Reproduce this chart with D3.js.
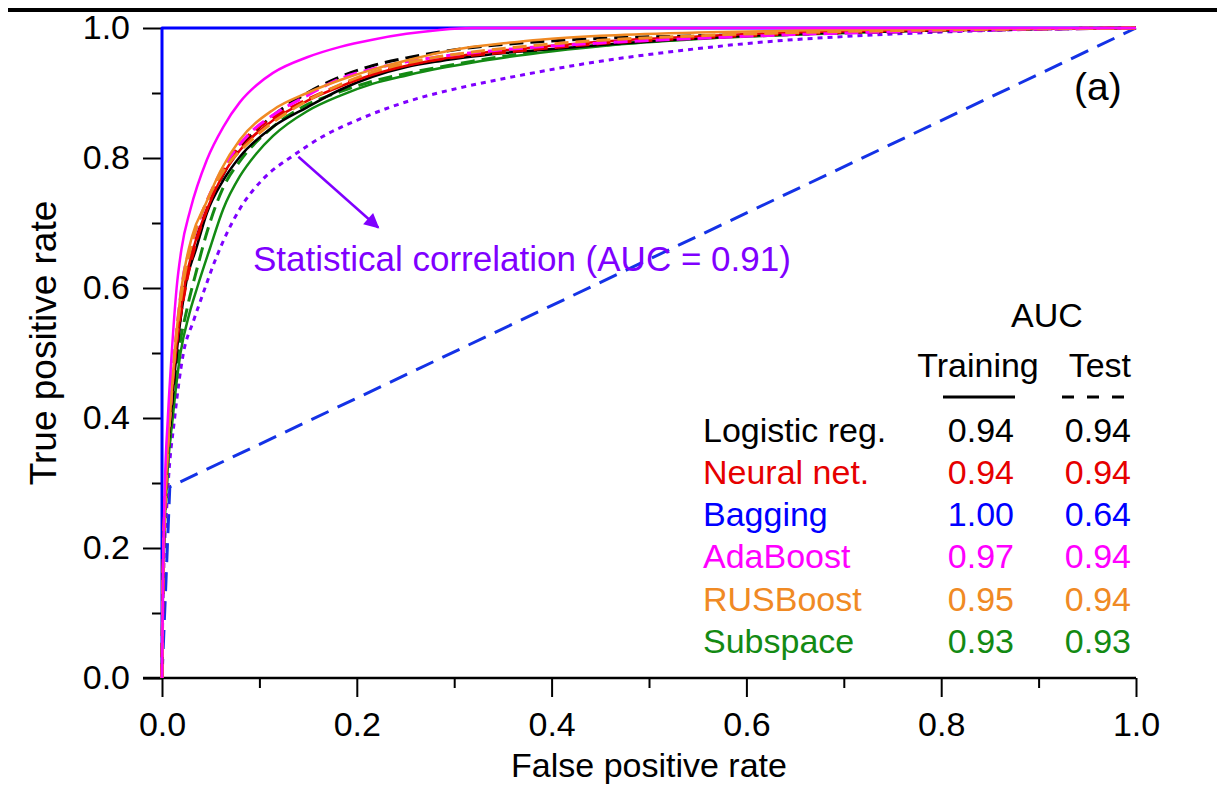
<!DOCTYPE html>
<html>
<head>
<meta charset="utf-8">
<script src="https://cdn.jsdelivr.net/npm/d3@7/dist/d3.min.js"></script>
<style>
  html, body { margin: 0; padding: 0; background: #fff; }
  svg { display: block; font-family: Arial, "Liberation Sans", Helvetica, sans-serif; }
</style>
</head>
<body>
<svg id="chart" width="1217" height="785"></svg>
<script>
// ---- model table ----
const models = ["Logistic reg.", "Neural net.", "Bagging", "AdaBoost", "RUSBoost", "Subspace"];
const modelColors = ["#000000", "#e60000", "#0000ff", "#ff00ff", "#f08a24", "#138a13"];
const aucTraining = ["0.94", "0.94", "1.00", "0.97", "0.95", "0.93"];
const aucTest = ["0.94", "0.94", "0.64", "0.94", "0.94", "0.93"];

// ---- axis ticks ----
const majorTicks = [0, 0.2, 0.4, 0.6, 0.8, 1.0];
const minorTicks = [0.1, 0.3, 0.5, 0.7, 0.9];

// ---- ROC curves (false positive rate, true positive rate) ----
const baggingTrainFpr = [0, 0, 1];
const baggingTrainTpr = [0, 1, 1];
const baggingTestFpr = [0, 0.008, 1];
const baggingTestTpr = [0, 0.294, 1];

const logisticTrainFpr = [0, 0.001, 0.004, 0.009, 0.015, 0.025, 0.035, 0.046, 0.063, 0.080, 0.114, 0.149, 0.183, 0.216, 0.251, 0.285, 0.319, 0.354, 0.388, 0.45, 0.55, 0.65, 0.75, 0.85, 1.0];
const logisticTrainTpr = [0, 0.15, 0.30, 0.40, 0.50, 0.61, 0.66, 0.715, 0.766, 0.802, 0.848, 0.878, 0.905, 0.925, 0.940, 0.949, 0.956, 0.962, 0.966, 0.974, 0.984, 0.991, 0.995, 0.998, 1.0];
const logisticTestFpr = [0, 0.001, 0.004, 0.009, 0.015, 0.024, 0.034, 0.046, 0.063, 0.080, 0.114, 0.149, 0.183, 0.216, 0.251, 0.285, 0.319, 0.354, 0.388, 0.45, 0.55, 0.65, 0.75, 0.85, 1.0];
const logisticTestTpr = [0, 0.15, 0.30, 0.40, 0.50, 0.61, 0.67, 0.72, 0.775, 0.815, 0.865, 0.900, 0.925, 0.942, 0.954, 0.963, 0.970, 0.975, 0.979, 0.984, 0.988, 0.991, 0.994, 0.997, 1.0];

const neuralTrainFpr = [0, 0.001, 0.004, 0.008, 0.014, 0.024, 0.034, 0.046, 0.063, 0.080, 0.114, 0.149, 0.183, 0.216, 0.251, 0.285, 0.319, 0.354, 0.388, 0.45, 0.55, 0.65, 0.75, 0.85, 1.0];
const neuralTrainTpr = [0, 0.15, 0.30, 0.40, 0.50, 0.61, 0.67, 0.72, 0.775, 0.812, 0.858, 0.888, 0.910, 0.928, 0.942, 0.952, 0.960, 0.966, 0.971, 0.979, 0.987, 0.993, 0.996, 0.998, 1.0];
const neuralTestFpr = [0, 0.001, 0.004, 0.008, 0.014, 0.024, 0.034, 0.046, 0.063, 0.080, 0.114, 0.149, 0.183, 0.216, 0.251, 0.285, 0.319, 0.354, 0.388, 0.45, 0.55, 0.65, 0.75, 0.85, 1.0];
const neuralTestTpr = [0, 0.15, 0.30, 0.40, 0.50, 0.60, 0.665, 0.72, 0.78, 0.82, 0.862, 0.890, 0.912, 0.930, 0.943, 0.952, 0.958, 0.963, 0.968, 0.976, 0.985, 0.991, 0.995, 0.998, 1.0];

const adaTrainFpr = [0, 0.001, 0.003, 0.006, 0.010, 0.015, 0.020, 0.029, 0.046, 0.063, 0.080, 0.097, 0.114, 0.149, 0.183, 0.216, 0.251, 0.285, 0.319, 0.6, 1.0];
const adaTrainTpr = [0, 0.15, 0.30, 0.40, 0.50, 0.60, 0.66, 0.72, 0.797, 0.848, 0.886, 0.912, 0.931, 0.955, 0.971, 0.982, 0.991, 0.997, 1.0, 1.0, 1.0];
const adaTestFpr = [0, 0.001, 0.004, 0.008, 0.013, 0.021, 0.031, 0.045, 0.063, 0.090, 0.114, 0.149, 0.183, 0.216, 0.251, 0.285, 0.319, 0.354, 0.388, 0.45, 0.55, 0.65, 0.75, 0.85, 1.0];
const adaTestTpr = [0, 0.15, 0.30, 0.40, 0.50, 0.61, 0.67, 0.73, 0.785, 0.838, 0.866, 0.896, 0.922, 0.937, 0.948, 0.956, 0.962, 0.967, 0.971, 0.977, 0.984, 0.990, 0.994, 0.997, 1.0];

const rusTrainFpr = [0, 0.001, 0.004, 0.008, 0.013, 0.020, 0.031, 0.045, 0.060, 0.080, 0.114, 0.149, 0.183, 0.216, 0.251, 0.285, 0.319, 0.354, 0.388, 0.45, 0.55, 0.65, 0.8, 1.0];
const rusTrainTpr = [0, 0.15, 0.30, 0.40, 0.50, 0.60, 0.68, 0.73, 0.78, 0.828, 0.874, 0.900, 0.920, 0.936, 0.950, 0.962, 0.971, 0.977, 0.982, 0.988, 0.993, 0.996, 0.999, 1.0];
const rusTestFpr = [0, 0.001, 0.004, 0.008, 0.013, 0.021, 0.031, 0.045, 0.063, 0.090, 0.114, 0.149, 0.183, 0.216, 0.251, 0.285, 0.319, 0.354, 0.388, 0.45, 0.55, 0.65, 0.75, 0.85, 1.0];
const rusTestTpr = [0, 0.15, 0.30, 0.40, 0.50, 0.60, 0.67, 0.73, 0.78, 0.825, 0.855, 0.888, 0.913, 0.932, 0.946, 0.956, 0.963, 0.969, 0.974, 0.981, 0.988, 0.993, 0.996, 0.998, 1.0];

const subspaceTrainFpr = [0, 0.001, 0.005, 0.011, 0.019, 0.028, 0.036, 0.049, 0.063, 0.080, 0.097, 0.114, 0.149, 0.183, 0.216, 0.251, 0.285, 0.319, 0.354, 0.388, 0.45, 0.55, 0.65, 0.75, 0.85, 1.0];
const subspaceTrainTpr = [0, 0.15, 0.30, 0.40, 0.50, 0.56, 0.60, 0.66, 0.722, 0.772, 0.807, 0.834, 0.872, 0.896, 0.914, 0.927, 0.938, 0.947, 0.955, 0.962, 0.972, 0.983, 0.990, 0.995, 0.998, 1.0];
const subspaceTestFpr = [0, 0.001, 0.005, 0.010, 0.017, 0.026, 0.036, 0.047, 0.063, 0.080, 0.114, 0.149, 0.183, 0.216, 0.251, 0.285, 0.319, 0.354, 0.388, 0.45, 0.55, 0.65, 0.75, 0.85, 1.0];
const subspaceTestTpr = [0, 0.15, 0.30, 0.40, 0.50, 0.57, 0.63, 0.69, 0.755, 0.795, 0.848, 0.882, 0.902, 0.918, 0.930, 0.940, 0.949, 0.957, 0.964, 0.973, 0.984, 0.990, 0.995, 0.998, 1.0];

const statCorrFpr = [0, 0.001, 0.006, 0.013, 0.022, 0.032, 0.039, 0.056, 0.080, 0.104, 0.134, 0.165, 0.200, 0.234, 0.268, 0.303, 0.337, 0.371, 0.438, 0.531, 0.622, 0.714, 0.805, 0.897, 1.0];
const statCorrTpr = [0, 0.12, 0.29, 0.40, 0.50, 0.548, 0.578, 0.648, 0.722, 0.768, 0.803, 0.833, 0.858, 0.878, 0.894, 0.907, 0.918, 0.928, 0.946, 0.965, 0.979, 0.988, 0.994, 0.998, 1.0];
const statCorrColor = "#7f00ff";
const statCorrLabel = "Statistical correlation (AUC = 0.91)";
// arrow tail / head and label anchor, in data units
const arrowFrom = [0.140, 0.802];
const arrowTo = [0.222, 0.693];
const statLabelAt = [0.0934, 0.626];

// ---- layout ----
const svg = d3.select("#chart");
const x = d3.scaleLinear().domain([0, 1]).range([162, 1136]);
const y = d3.scaleLinear().domain([0, 1]).range([678, 28]);
const FONT = 34;

// heavy rule across the top
svg.append("rect").attr("x", 8).attr("y", 8).attr("width", 1209).attr("height", 4).attr("fill", "#000");

// ---- axes ----
const gx = svg.append("g").attr("transform", `translate(0,${y(0)})`);
gx.call(d3.axisBottom(x).tickValues(majorTicks).tickSize(19).tickPadding(15).tickFormat(d3.format(".1f")));
const gxm = svg.append("g").attr("transform", `translate(0,${y(0)})`);
gxm.call(d3.axisBottom(x).tickValues(minorTicks).tickSize(10).tickFormat(""));
const gy = svg.append("g").attr("transform", `translate(${x(0)},0)`);
gy.call(d3.axisLeft(y).tickValues(majorTicks).tickSize(19).tickPadding(13).tickFormat(d3.format(".1f")));
const gym = svg.append("g").attr("transform", `translate(${x(0)},0)`);
gym.call(d3.axisLeft(y).tickValues(minorTicks).tickSize(10).tickFormat(""));

[gx, gxm, gy, gym].forEach(g => {
  g.select(".domain").remove();
  g.selectAll(".tick line").attr("stroke", "#000").attr("stroke-width", 2);
  g.selectAll(".tick text").attr("fill", "#000").style("font-size", FONT + "px").style("font-family", "Arial, 'Liberation Sans', sans-serif");
});
// axis lines
svg.append("line").attr("x1", x(0) - 19).attr("x2", x(1)).attr("y1", y(0)).attr("y2", y(0)).attr("stroke", "#000").attr("stroke-width", 2.5);
svg.append("line").attr("x1", x(0)).attr("x2", x(0)).attr("y1", y(0)).attr("y2", y(1)).attr("stroke", "#000").attr("stroke-width", 2);

// axis titles
svg.append("text").attr("x", (x(0) + x(1)) / 2).attr("y", 777).attr("text-anchor", "middle")
  .style("font-size", "34px").text("False positive rate");
svg.append("text").attr("transform", `translate(56,${(y(0) + y(1)) / 2 - 10}) rotate(-90)`).attr("text-anchor", "middle")
  .style("font-size", "37px").text("True positive rate");

// ---- curves ----
const smooth = d3.line().x(d => x(d[0])).y(d => y(d[1])).curve(d3.curveMonotoneX);
const straight = d3.line().x(d => x(d[0])).y(d => y(d[1]));
const zip = (a, b) => a.map((v, i) => [v, b[i]]);
const curves = [
  { fpr: baggingTrainFpr, tpr: baggingTrainTpr, color: modelColors[2], dash: null, w: 3, gen: straight },
  { fpr: baggingTestFpr, tpr: baggingTestTpr, color: "#1432e6", dash: "19,10", w: 3, gen: straight },
  { fpr: statCorrFpr, tpr: statCorrTpr, color: statCorrColor, dash: "5,5", w: 3, gen: smooth },
  { fpr: subspaceTestFpr, tpr: subspaceTestTpr, color: modelColors[5], dash: "14,7", w: 3, gen: smooth },
  { fpr: subspaceTrainFpr, tpr: subspaceTrainTpr, color: modelColors[5], dash: null, w: 2.5, gen: smooth },
  { fpr: logisticTrainFpr, tpr: logisticTrainTpr, color: modelColors[0], dash: null, w: 2.5, gen: smooth },
  { fpr: logisticTestFpr, tpr: logisticTestTpr, color: modelColors[0], dash: "14,7", w: 3, gen: smooth },
  { fpr: neuralTrainFpr, tpr: neuralTrainTpr, color: modelColors[1], dash: null, w: 2.5, gen: smooth },
  { fpr: neuralTestFpr, tpr: neuralTestTpr, color: modelColors[1], dash: "14,7", w: 3, gen: smooth },
  { fpr: adaTestFpr, tpr: adaTestTpr, color: modelColors[3], dash: "14,7", w: 3, gen: smooth },
  { fpr: rusTestFpr, tpr: rusTestTpr, color: modelColors[4], dash: "14,7", w: 3, gen: smooth },
  { fpr: rusTrainFpr, tpr: rusTrainTpr, color: modelColors[4], dash: null, w: 2.5, gen: smooth },
  { fpr: adaTrainFpr, tpr: adaTrainTpr, color: modelColors[3], dash: null, w: 2.5, gen: smooth }
];
svg.append("g").selectAll("path").data(curves).join("path")
  .attr("d", c => c.gen(zip(c.fpr, c.tpr)))
  .attr("fill", "none")
  .attr("stroke", c => c.color)
  .attr("stroke-width", c => c.w)
  .attr("stroke-dasharray", c => c.dash)
  .attr("stroke-linejoin", "round");

// ---- annotation arrow ----
svg.append("defs").append("marker")
  .attr("id", "arrowHead").attr("viewBox", "0 0 10 10").attr("refX", 9).attr("refY", 5)
  .attr("markerWidth", 7).attr("markerHeight", 6).attr("markerUnits", "strokeWidth").attr("orient", "auto")
  .append("path").attr("d", "M0,0 L10,5 L0,10 Z").attr("fill", statCorrColor);
svg.append("line")
  .attr("x1", x(arrowFrom[0])).attr("y1", y(arrowFrom[1]))
  .attr("x2", x(arrowTo[0])).attr("y2", y(arrowTo[1]))
  .attr("stroke", statCorrColor).attr("stroke-width", 2.5).attr("marker-end", "url(#arrowHead)");
svg.append("text").attr("x", x(statLabelAt[0])).attr("y", y(statLabelAt[1]))
  .attr("fill", statCorrColor).style("font-size", "35px").text(statCorrLabel);

// panel tag
svg.append("text").attr("x", 1074).attr("y", 100).style("font-size", "39px").text("(a)");

// ---- AUC table ----
const colTrainRight = 1014, colTestRight = 1131, labelLeft = 703;
svg.append("text").attr("x", 1047).attr("y", 327).attr("text-anchor", "middle").style("font-size", FONT + "px").text("AUC");
svg.append("text").attr("x", 978).attr("y", 377).attr("text-anchor", "middle").style("font-size", FONT + "px").text("Training");
svg.append("text").attr("x", colTestRight).attr("y", 377).attr("text-anchor", "end").style("font-size", FONT + "px").text("Test");
svg.append("line").attr("x1", 943).attr("x2", 1015).attr("y1", 397).attr("y2", 397).attr("stroke", "#000").attr("stroke-width", 3);
svg.append("line").attr("x1", 1062).attr("x2", 1134).attr("y1", 397).attr("y2", 397).attr("stroke", "#000").attr("stroke-width", 3).attr("stroke-dasharray", "12,13");

const rows = svg.append("g").selectAll("g").data(models).join("g")
  .attr("transform", (d, i) => `translate(0,${441.5 + i * 42.3})`)
  .attr("fill", (d, i) => modelColors[i])
  .style("font-size", FONT + "px");
rows.append("text").attr("x", labelLeft).text(d => d);
rows.append("text").attr("x", colTrainRight).attr("text-anchor", "end").text((d, i) => aucTraining[i]);
rows.append("text").attr("x", colTestRight).attr("text-anchor", "end").text((d, i) => aucTest[i]);
</script>
</body>
</html>
